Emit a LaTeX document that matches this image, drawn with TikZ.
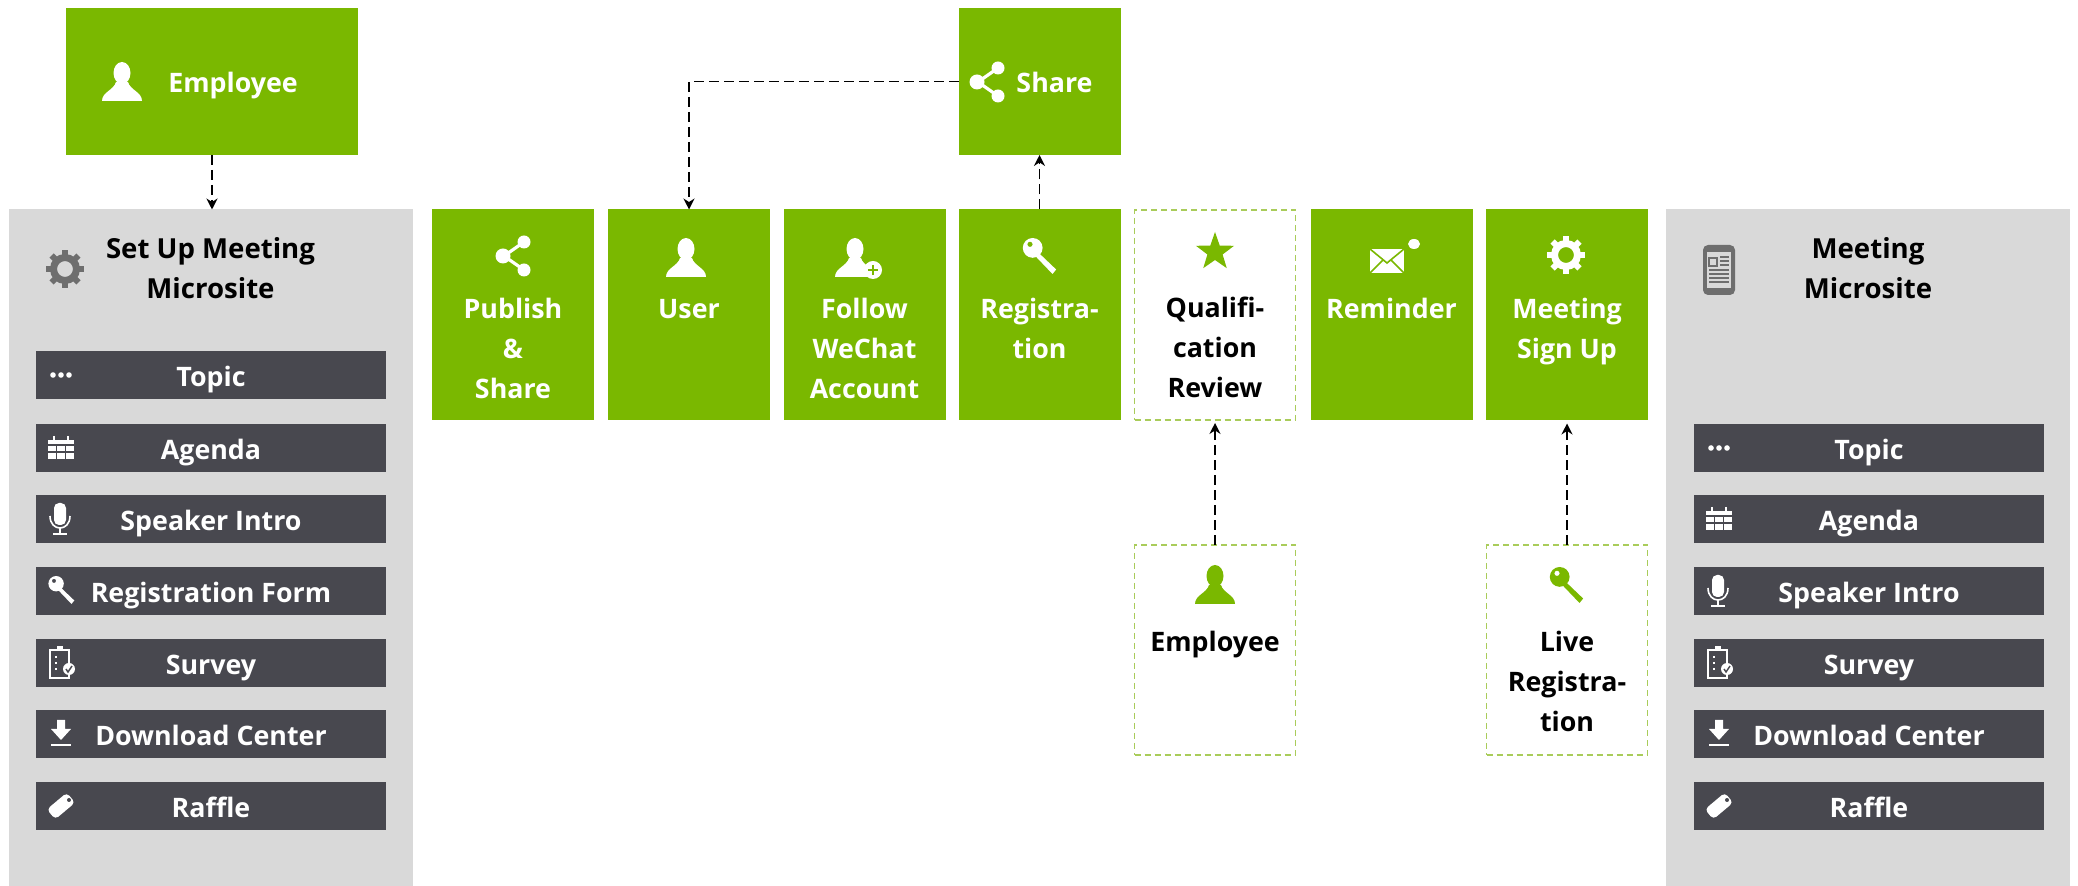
\documentclass[tikz,border=0pt]{standalone}
\usepackage{fontspec}
\setmainfont{Open Sans}
\usepackage{tikz}
\usetikzlibrary{arrows.meta}

\definecolor{boxgreen}{HTML}{7AB800}
\definecolor{dashgreen}{HTML}{A9CC5A}
\definecolor{panelgrey}{HTML}{D9D9D9}
\definecolor{bardark}{HTML}{48484F}
\definecolor{icongrey}{HTML}{6E6E6E}

\newcommand{\toptext}[4]{\parbox[c][#1][t]{#2}{\centering\vspace*{#3}\strut #4\strut}}

\tikzset{
    pics/personicon/.style={code={
        \fill (0,-9) ellipse [x radius=8.5, y radius=11];
        \fill (-20,19) .. controls (-20,10) and (-8,8) .. (-6,0) -- (6,0) .. controls (8,8) and (20,10) .. (20,19) -- cycle;
    }},
    pics/plusicon/.style={code={
        \fill (0,0) circle [radius=9];
        \draw[boxgreen, line width=1.2pt] (-5,0) -- (5,0) (0,-5) -- (0,5);
    }},
    pics/shareicon/.style={code={
        \draw[line width=1.6pt] (11,-14) -- (-9,0) -- (11,14);
        \fill (11,-14) circle [radius=6.5];
        \fill (-10,0) circle [radius=7.5];
        \fill (11,14) circle [radius=6.5];
    }},
    pics/keyicon/.style={code={
        \fill[even odd rule] (-7,-9) circle [radius=11] (-10,-13) circle [radius=3];
        \fill (-3,-6) -- (19,15) -- (15,20) -- (-6,-2) -- cycle;
    }},
    pics/gearicon/.style={code={
        \draw[line width=3.5pt] (0,0) circle [radius=11.5];
        \foreach \a in {0,45,...,315}
            \draw[line width=3pt] (\a:13) -- (\a:19);
    }},
    pics/mailicon/.style={code={
        \fill (-17,-12) rectangle (17,12);
        \draw[boxgreen, line width=0.8pt] (-17,-12) -- (0,2) -- (17,-12) (-17,12) -- (-4,-1) (17,12) -- (4,-1);
        \fill (27,-17) ellipse [x radius=6, y radius=5];
    }},
    pics/staricon/.style={code={
        \fill (-90:20) -- (-54:8) -- (-18:20) -- (18:8) -- (54:20) -- (90:8) -- (126:20) -- (162:8) -- (198:20) -- (234:8) -- cycle;
    }},
    pics/dotsicon/.style={code={
        \fill (-8,0) circle [radius=2.8];
        \fill (0,0) circle [radius=2.8];
        \fill (8,0) circle [radius=2.8];
    }},
    pics/calicon/.style={code={
        \fill (-13,-8) rectangle (13,11);
        \draw[white, line width=1pt] (-7,-12) -- (-7,-8) (7,-12) -- (7,-8);
        \draw[bardark, line width=0.8pt] (-13,-3) -- (13,-3) (-13,4) -- (13,4) (-4.5,-3) -- (-4.5,11) (4.5,-3) -- (4.5,11);
    }},
    pics/micicon/.style={code={
        \fill[rounded corners=2.5pt] (-6,-16) rectangle (6,6);
        \draw[line width=0.8pt] (-10,-3) .. controls (-10,13) and (10,13) .. (10,-3);
        \draw[line width=0.8pt] (0,9) -- (0,15) (-7,15) -- (7,15);
    }},
    pics/clipicon/.style={code={
        \draw[line width=0.6pt] (-11,-13) rectangle (8,15);
        \fill (-4,-17) rectangle (2,-12);
        \draw[line width=1pt, dotted] (-5,-7) -- (-5,9);
        \fill (8,6) circle [radius=6];
        \draw[bardark, line width=0.7pt] (5,6) -- (7,9) -- (11,3);
    }},
    pics/downicon/.style={code={
        \fill (-4,-14) -- (4,-14) -- (4,-5) -- (10,-5) -- (0,6) -- (-10,-5) -- (-4,-5) -- cycle;
        \draw[line width=0.8pt] (-10,11) -- (10,11);
    }},
    pics/tagicon/.style={code={
        \fill[rotate=40, rounded corners=2pt] (-13,-6.5) rectangle (13,6.5);
        \fill[bardark] (8,-6) circle [radius=2];
    }},
    pics/phoneicon/.style={code={
        \fill[icongrey, rounded corners=2.5pt] (-16,-25) rectangle (16,25);
        \fill[panelgrey] (-12,-18) rectangle (12,18);
        \draw[icongrey, line width=0.8pt] (-10,-12) rectangle (-2,-4);
        \draw[icongrey, line width=0.8pt] (1,-13) -- (10,-13) (1,-9) -- (10,-9) (1,-5) -- (10,-5) (-10,0) -- (10,0) (-10,4) -- (10,4) (-10,8) -- (10,8) (-10,12) -- (10,12);
    }}
}

\begin{document}
\begin{tikzpicture}[x=0.5pt, y=-0.5pt,
    every node/.style={inner sep=0pt, outer sep=0pt, font=\fontsize{13.4}{20}\selectfont\bfseries},
    greenbox/.style={fill=boxgreen, text=white, minimum width=81pt, minimum height=105.5pt},
    dashbox/.style={draw=dashgreen, line width=0.8pt, dashed, dash pattern=on 3pt off 2pt, fill=white, text=black, minimum width=80.5pt, minimum height=105pt},
    topbox/.style={fill=boxgreen, text=white, minimum height=73.5pt, text height=11.3pt, text depth=0pt},
    panel/.style={fill=panelgrey, text=black, minimum width=202pt, minimum height=338.5pt, font=\fontsize{13.8}{20}\selectfont\bfseries},
    bar/.style={fill=bardark, text=white, minimum width=175pt, minimum height=24pt, text height=11.3pt, text depth=0pt},
    flow/.style={-{Stealth[length=5.5pt, width=5.5pt]}, line width=0.8pt, dash pattern=on 5pt off 2.5pt}]
    \useasboundingbox (0,0) rectangle (2078,886);

    \node[panel] (Setup) at (210.5,548) {\toptext{338.5pt}{150pt}{10.3pt}{Set Up Meeting\\Microsite}};
    \node[panel] (Site) at (1868,548) {\toptext{338.5pt}{150pt}{10.3pt}{Meeting\\Microsite}};

    \node[topbox, minimum width=146pt] (Employee) at (212,81.5) {\hspace*{21pt}Employee};
    \node[topbox, minimum width=81pt] (Share) at (1039.5,81.5) {\hspace*{15pt}Share};

    \node[greenbox] (Publish) at (513,315) {\toptext{105.5pt}{78pt}{40.5pt}{Publish\\\&\\Share}};
    \node[greenbox] (User) at (689,315) {\toptext{105.5pt}{78pt}{40.5pt}{User}};
    \node[greenbox] (Follow) at (864.5,315) {\toptext{105.5pt}{78pt}{40.5pt}{Follow\\WeChat\\Account}};
    \node[greenbox] (Reg) at (1039.5,315) {\toptext{105.5pt}{78pt}{40.5pt}{Registra-\\tion}};
    \node[dashbox] (Review) at (1215,315) {\toptext{105pt}{78pt}{40pt}{Qualifi-\\cation\\Review}};
    \node[greenbox] (Reminder) at (1391.5,315) {\toptext{105.5pt}{78pt}{40.5pt}{Reminder}};
    \node[greenbox] (SignUp) at (1567,315) {\toptext{105.5pt}{78pt}{40.5pt}{Meeting\\Sign Up}};

    \node[dashbox] (Staff) at (1215,650) {\toptext{105pt}{78pt}{39.5pt}{Employee}};
    \node[dashbox] (Live) at (1567,650) {\toptext{105pt}{78pt}{39.5pt}{Live\\Registra-\\tion}};

    \node[bar] (Topic1) at (211,375) {Topic};
    \node[bar] (Agenda1) at (211,448) {Agenda};
    \node[bar] (Speaker1) at (211,519) {Speaker Intro};
    \node[bar] (Form1) at (211,591) {Registration Form};
    \node[bar] (Survey1) at (211,663) {Survey};
    \node[bar] (Download1) at (211,734) {Download Center};
    \node[bar] (Raffle1) at (211,806) {Raffle};

    \node[bar] (Topic2) at (1869,448) {Topic};
    \node[bar] (Agenda2) at (1869,519) {Agenda};
    \node[bar] (Speaker2) at (1869,591) {Speaker Intro};
    \node[bar] (Survey2) at (1869,663) {Survey};
    \node[bar] (Download2) at (1869,734) {Download Center};
    \node[bar] (Raffle2) at (1869,806) {Raffle};

    \draw[flow] (Employee.south) -- (Employee.south |- Setup.north);
    \draw[flow] (Share.west) -| (User.north);
    \draw[flow] (Reg.north) -- (Share.south);
    \draw[flow, shorten >=1.5pt] (Staff.north) -- (Review.south);
    \draw[flow, shorten >=1.5pt] (Live.north) -- (SignUp.south);

    \pic[white] at (122,82) {personicon};
    \pic[white] at (987,82) {shareicon};
    \pic[white] at (513,256) {shareicon};
    \pic[white] at (686,258) {personicon};
    \pic[white] at (855,258) {personicon};
    \pic[white] at (873,270) {plusicon};
    \pic[white, scale=0.9] at (1039,256) {keyicon};
    \pic[boxgreen] at (1215,252) {staricon};
    \pic[white] at (1387,261) {mailicon};
    \pic[white] at (1566,255) {gearicon};
    \pic[boxgreen] at (1215,585) {personicon};
    \pic[boxgreen, scale=0.9] at (1566,585) {keyicon};

    \pic[icongrey] at (65,269) {gearicon};
    \pic at (1719,270) {phoneicon};

    \pic[white] at (61,375) {dotsicon};
    \pic[white] at (61,448) {calicon};
    \pic[white] at (60,519) {micicon};
    \pic[white, scale=0.7] at (61,590) {keyicon};
    \pic[white] at (61,663) {clipicon};
    \pic[white] at (61,734) {downicon};
    \pic[white] at (61,806) {tagicon};

    \pic[white] at (1719,448) {dotsicon};
    \pic[white] at (1719,519) {calicon};
    \pic[white] at (1718,591) {micicon};
    \pic[white] at (1719,663) {clipicon};
    \pic[white] at (1719,734) {downicon};
    \pic[white] at (1719,806) {tagicon};
\end{tikzpicture}
\end{document}
